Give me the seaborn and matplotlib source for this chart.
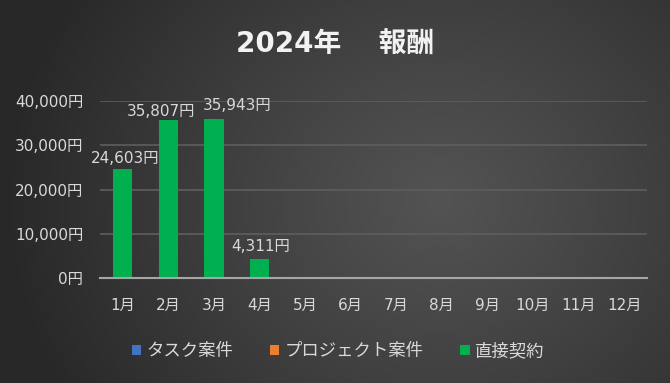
import numpy as np
import pandas as pd
import matplotlib
matplotlib.use("Agg")
import matplotlib.pyplot as plt
from matplotlib.patches import Patch
import seaborn as sns

months = ["1月", "2月", "3月", "4月", "5月", "6月", "7月", "8月", "9月", "10月", "11月", "12月"]
task = [0, 0, 0, 0, 0, 0, 0, 0, 0, 0, 0, 0]
project = [0, 0, 0, 0, 0, 0, 0, 0, 0, 0, 0, 0]
direct = [24603, 35807, 35943, 4311, 0, 0, 0, 0, 0, 0, 0, 0]
series_names = ["タスク案件", "プロジェクト案件", "直接契約"]
series_colors = ["#4472C4", "#ED7D31", "#00B050"]
yticks = [0, 10000, 20000, 30000, 40000]

sns.set_theme(style="dark")
NUMFONT = ["DejaVu Sans", "Noto Sans CJK JP"]
JPFONT = ["Noto Sans CJK JP", "DejaVu Sans"]
plt.rcParams["font.family"] = NUMFONT

fig = plt.figure(figsize=(6.7, 3.83), dpi=100)

# radial gradient background
bg = fig.add_axes([0, 0, 1, 1], zorder=-10)
W, H = 670, 383
yy, xx = np.mgrid[0:H, 0:W]
r = np.sqrt(((xx - 440) / 1.0) ** 2 + ((yy - 200) / 0.9) ** 2)
t = np.clip(r / 430.0, 0, 1)
val = 0.325 - (0.325 - 0.160) * t ** 1.1
img = np.dstack([val, val, val])
bg.imshow(img, aspect="auto", extent=[0, 1, 0, 1], origin="upper")
bg.set_axis_off()

ax = fig.add_axes([100 / 670, 1 - 278 / 383, 547 / 670, (278 - 101) / 383])
ax.patch.set_alpha(0)

df = pd.DataFrame({"month": months, "task": task, "project": project, "direct": direct})
text_color = "#D9D9D9"
for col, color in zip(["task", "project", "direct"], series_colors):
    sns.barplot(data=df, x="month", y=col, color=color, width=0.42, ax=ax,
                saturation=1, order=months, edgecolor="none", linewidth=0)

ax.set_ylim(0, 40000)
ax.set_xlim(-0.5, 11.5)
ax.set_yticks(yticks)
ax.set_yticklabels([f"{v:,}円" for v in yticks], color=text_color, fontsize=11)
ax.set_xticklabels(months, color=text_color, fontsize=11)
ax.tick_params(axis="x", length=0, pad=14)
ax.tick_params(axis="y", length=0, pad=12)
ax.set_xlabel("")
ax.set_ylabel("")
for s in ["top", "right", "left"]:
    ax.spines[s].set_visible(False)
ax.spines["bottom"].set_color("#A6A6A6")
ax.spines["bottom"].set_linewidth(1.5)
ax.yaxis.grid(True, color="#5E5E5E", linewidth=1.2)
ax.xaxis.grid(False)
ax.set_axisbelow(True)

# label offsets (points) mimic Excel's collision avoidance
label_dx = [1.5, -5, 17, 0.5, 0, 0, 0, 0, 0, 0, 0, 0]
label_dy = [2.5, 0.5, 4, 3.5, 0, 0, 0, 0, 0, 0, 0, 0]
for i, v in enumerate(direct):
    if v > 0:
        ax.annotate(f"{v:,}円", (i, v), xytext=(label_dx[i], label_dy[i]),
                    textcoords="offset points",
                    ha="center", va="bottom", color=text_color, fontsize=11)

fig.text(0.5, 1 - 45 / 383, "2024年　 報酬", ha="center", va="center",
         color="#F2F2F2", fontsize=20, fontweight="bold")

handles = [Patch(facecolor=c, edgecolor="none") for c in series_colors]
fig.legend(handles, series_names, loc="center", bbox_to_anchor=(338 / 670, 1 - 351 / 383),
           ncol=3, frameon=False, prop={"family": JPFONT, "size": 12.5},
           labelcolor=text_color,
           handlelength=0.55, handleheight=0.55, handletextpad=0.3, columnspacing=2.1)

fig.savefig("out.png", dpi=100)
